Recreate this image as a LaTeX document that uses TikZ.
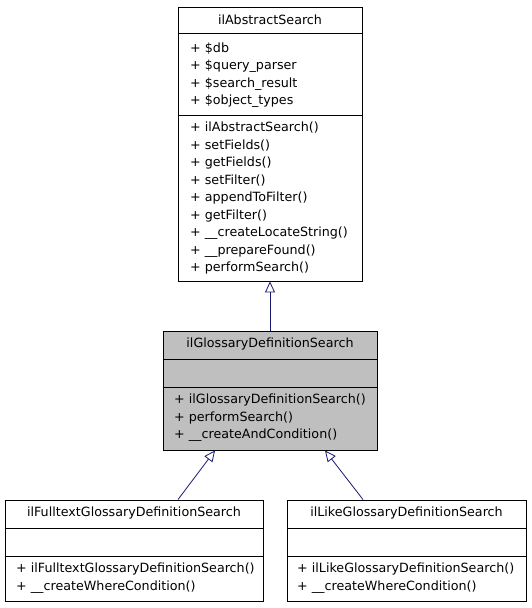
\documentclass[tikz,border=0pt]{standalone}
\usepackage{fontspec}
\setmainfont{DejaVu Sans}
\usetikzlibrary{arrows.meta,calc}
\definecolor{edgeblue}{HTML}{191970}
\definecolor{boxgray}{HTML}{BFBFBF}
\begin{document}
\begin{tikzpicture}[x=1pt, y=-1pt,
    every node/.style={font=\fontsize{12.7}{15}\selectfont},
    cls/.style={draw, line width=0.9pt, inner sep=0pt, fill=white},
    title/.style={anchor=base, inner sep=0pt},
    member/.style={anchor=base west, inner sep=0pt},
    inherit/.style={draw=edgeblue, line width=0.8pt, -{Triangle[open, length=11pt, width=10pt]}}]
  \useasboundingbox (0,0) rectangle (531,608);

  % base class
  \node[cls, minimum width=184pt, minimum height=274pt] (abs) at (270,144) {};
  \draw[line width=0.9pt] (abs.west |- 0,33) -- (abs.east |- 0,33);
  \draw[line width=0.9pt] (abs.west |- 0,115) -- (abs.east |- 0,115);
  \node[title] (absname) at (270,24.5) {ilAbstractSearch};
  \foreach \t [count=\i] in {+ \$db, + \$query\_parser, + \$search\_result, + \$object\_types}
    \node[member] (absattr\i) at (190,{52+17.5*(\i-1)}) {\t};
  \foreach \t [count=\i] in {+ ilAbstractSearch(), + setFields(), + getFields(), + setFilter(),
      + appendToFilter(), + getFilter(), + \_\_createLocateString(), + \_\_prepareFound(), + performSearch()}
    \node[member] (absop\i) at (190,{131.5+17.5*(\i-1)}) {\t};

  % this class
  \node[cls, fill=boxgray, minimum width=214pt, minimum height=119pt] (gds) at (270,390.5) {};
  \draw[line width=0.9pt] (gds.west |- 0,359) -- (gds.east |- 0,359);
  \draw[line width=0.9pt] (gds.west |- 0,387) -- (gds.east |- 0,387);
  \node[title] (gdsname) at (270,347.5) {ilGlossaryDefinitionSearch};
  \foreach \t [count=\i] in {+ ilGlossaryDefinitionSearch(), + performSearch(), + \_\_createAndCondition()}
    \node[member] (gdsop\i) at (174,{403.5+17.5*(\i-1)}) {\t};

  % derived classes
  \node[cls, minimum width=258pt, minimum height=101pt] (fts) at (134,550.5) {};
  \draw[line width=0.9pt] (fts.west |- 0,528) -- (fts.east |- 0,528);
  \draw[line width=0.9pt] (fts.west |- 0,556) -- (fts.east |- 0,556);
  \node[title] (ftsname) at (134,516.5) {ilFulltextGlossaryDefinitionSearch};
  \foreach \t [count=\i] in {+ ilFulltextGlossaryDefinitionSearch(), + \_\_createWhereCondition()}
    \node[member] (ftsop\i) at (16,{572.5+17.5*(\i-1)}) {\t};

  \node[cls, minimum width=239pt, minimum height=101pt] (lks) at (406.5,550.5) {};
  \draw[line width=0.9pt] (lks.west |- 0,528) -- (lks.east |- 0,528);
  \draw[line width=0.9pt] (lks.west |- 0,556) -- (lks.east |- 0,556);
  \node[title] (lksname) at (406.5,516.5) {ilLikeGlossaryDefinitionSearch};
  \foreach \t [count=\i] in {+ ilLikeGlossaryDefinitionSearch(), + \_\_createWhereCondition()}
    \node[member] (lksop\i) at (297,{572.5+17.5*(\i-1)}) {\t};

  % inheritance
  \draw[inherit] (gds.north) -- (abs.south);
  \draw[inherit] ([xshift=44pt]fts.north) -- ([xshift=-55pt]gds.south);
  \draw[inherit] ([xshift=-43.5pt]lks.north) -- ([xshift=55pt]gds.south);
\end{tikzpicture}
\end{document}
